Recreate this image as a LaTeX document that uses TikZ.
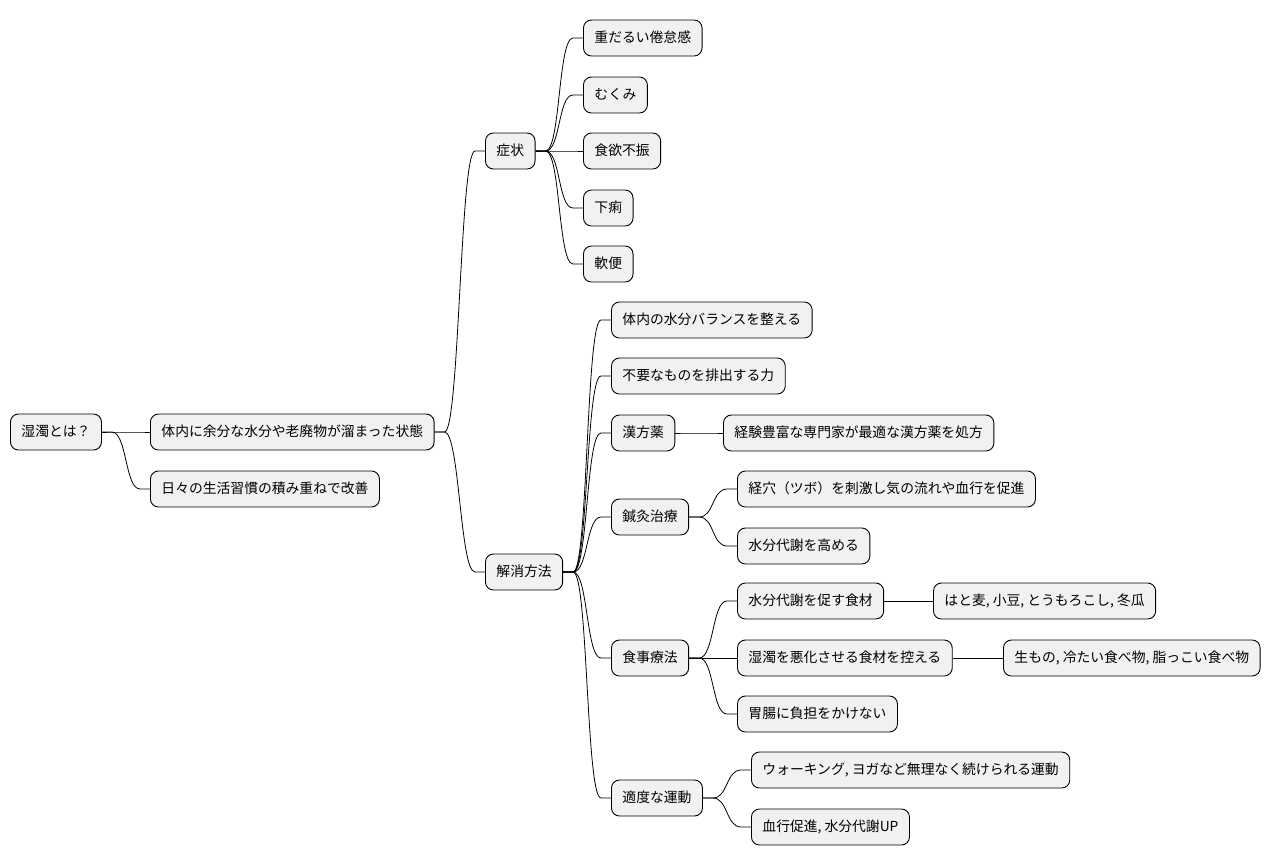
\documentclass[tikz,border=0pt]{standalone}
\usepackage{fontspec}
\setmainfont{Noto Sans CJK JP}
\usepackage{xcolor}
\definecolor{boxgray}{HTML}{F1F1F1}
\newcommand{\branch}[2]{\draw[link] (#1.east) -- ++(10,0)
    .. controls +(15,0) and +(-15,0) .. ([xshift=-10pt]#2.west) -- (#2.west);}

\begin{document}
\begin{tikzpicture}[x=1pt,y=-1pt,
    topic/.style={draw,rounded corners=8pt,fill=boxgray,line width=0.9pt,
        minimum height=36pt,inner xsep=11pt,anchor=west,
        font=\fontsize{13.8}{16}\selectfont,text height=11.5pt,text depth=2pt},
    link/.style={draw,line width=0.8pt}
]
    \useasboundingbox (0,0) rectangle (1276,865);

    \node[topic] (root) at (10,432) {湿濁とは？};
    \node[topic] (state) at (150,432) {体内に余分な水分や老廃物が溜まった状態};
    \node[topic] (habit) at (150,489) {日々の生活習慣の積み重ねで改善};

    \node[topic] (sympt) at (485,151) {症状};
    \node[topic] (solve) at (485,572) {解消方法};

    \node[topic] (s1) at (583,38) {重だるい倦怠感};
    \node[topic] (s2) at (583,95) {むくみ};
    \node[topic] (s3) at (583,151) {食欲不振};
    \node[topic] (s4) at (583,208) {下痢};
    \node[topic] (s5) at (583,264) {軟便};

    \node[topic] (m1) at (611,320) {体内の水分バランスを整える};
    \node[topic] (m2) at (611,376) {不要なものを排出する力};
    \node[topic] (kampo) at (611,433) {漢方薬};
    \node[topic] (kampo1) at (723,433) {経験豊富な専門家が最適な漢方薬を処方};
    \node[topic] (acu) at (611,517) {鍼灸治療};
    \node[topic] (acu1) at (737,489) {経穴（ツボ）を刺激し気の流れや血行を促進};
    \node[topic] (acu2) at (737,546) {水分代謝を高める};
    \node[topic] (diet) at (611,658) {食事療法};
    \node[topic] (diet1) at (737,601) {水分代謝を促す食材};
    \node[topic] (diet1a) at (933,601) {はと麦, 小豆, とうもろこし, 冬瓜};
    \node[topic] (diet2) at (737,658) {湿濁を悪化させる食材を控える};
    \node[topic] (diet2a) at (1003,658) {生もの, 冷たい食べ物, 脂っこい食べ物};
    \node[topic] (diet3) at (737,714) {胃腸に負担をかけない};
    \node[topic] (exer) at (611,798) {適度な運動};
    \node[topic] (exer1) at (751,770) {ウォーキング, ヨガなど無理なく続けられる運動};
    \node[topic] (exer2) at (751,827) {血行促進, 水分代謝UP};

    \foreach \a/\b in {root/state,root/habit,state/sympt,state/solve,
        sympt/s1,sympt/s2,sympt/s3,sympt/s4,sympt/s5,
        solve/m1,solve/m2,solve/kampo,solve/acu,solve/diet,solve/exer,
        kampo/kampo1,acu/acu1,acu/acu2,diet/diet1,diet/diet2,diet/diet3,
        diet1/diet1a,diet2/diet2a,exer/exer1,exer/exer2}
        {\branch{\a}{\b}}
\end{tikzpicture}
\end{document}
